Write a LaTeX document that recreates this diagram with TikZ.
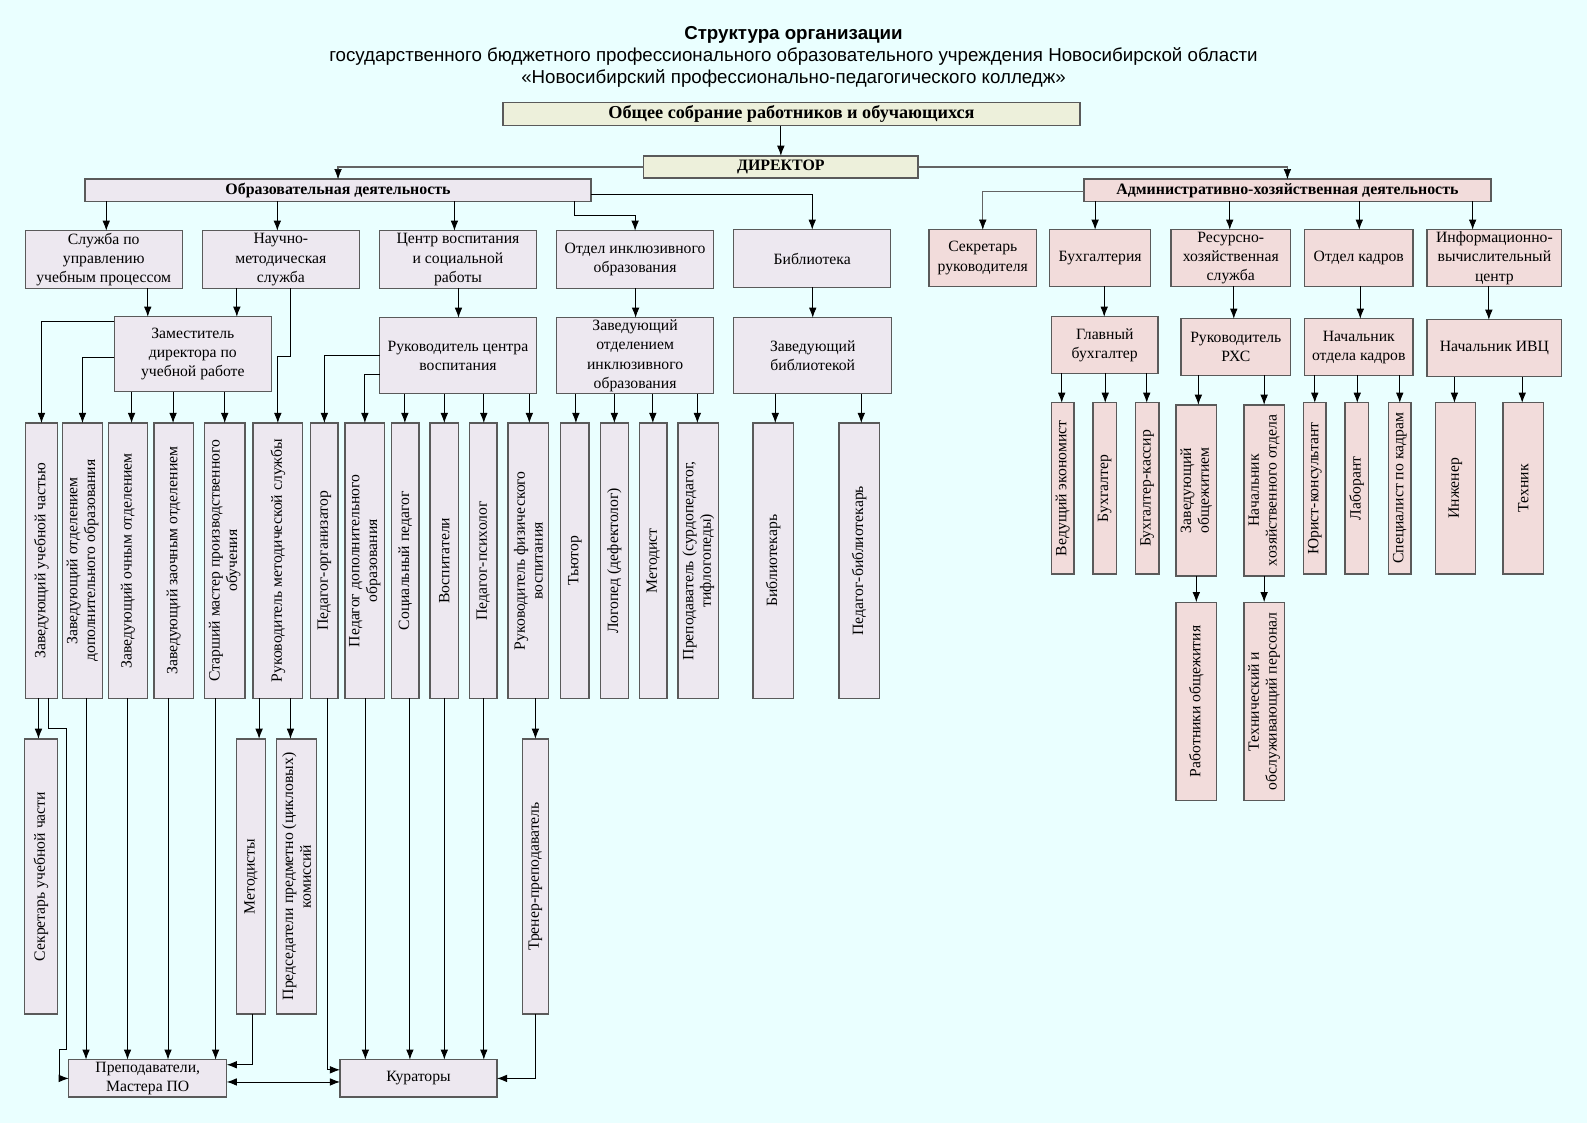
\documentclass[tikz,border=0pt]{standalone}
\usepackage{fontspec}
\setmainfont{Liberation Serif}
\newfontfamily\titlefont{Liberation Sans}
\usetikzlibrary{arrows.meta,calc}
\definecolor{bgc}{RGB}{234,255,255}
\definecolor{topc}{RGB}{237,240,219}
\definecolor{educ}{RGB}{237,232,240}
\definecolor{admc}{RGB}{242,220,219}
\definecolor{bordc}{RGB}{90,90,90}
\definecolor{linec}{RGB}{100,100,100}
\newcommand\bx[7]{\node[#6, minimum width={#4-#2}, minimum height={#5-#3}] (#1) at ({(#2+#4)/2},{(#3+#5)/2}) {#7};}
\newcommand\vbx[7]{\node[#6, minimum width={#4-#2}, minimum height={#5-#3}, label={[vtext]center:{#7}}] (#1) at ({(#2+#4)/2},{(#3+#5)/2}) {};}
\begin{document}
\begin{tikzpicture}[x=1pt,y=-1pt,
  box/.style={draw=bordc, line width=1.3pt, inner sep=1pt, outer sep=0pt, align=center, font=\fontsize{15.5}{19}\selectfont},
  ebox/.style={box, fill=educ},
  abox/.style={box, fill=admc},
  tbox/.style={box, fill=topc, font=\bfseries\fontsize{15.7}{18}\selectfont},
  bbox/.style={box, fill=#1, font=\bfseries\fontsize{15.7}{18}\selectfont},
  vtext/.style={rotate=90, align=center, font=\fontsize{15.5}{17.5}\selectfont},
  arr/.style={-{Latex[length=10pt,width=7.5pt]}, line width=0.9pt, draw=black},
  garr/.style={-{Latex[length=10pt,width=7.5pt,line width=0.5pt,black]}, line width=1.4pt, draw=linec},
  arrb/.style={{Latex[length=10pt,width=7.5pt]}-{Latex[length=10pt,width=7.5pt]}, line width=0.9pt, draw=black},
  ttl/.style={font=\titlefont\fontsize{18.5}{21}\selectfont}]
\useasboundingbox (0,0) rectangle (1568,1110);
\fill[bgc] (0,0) rectangle (1568,1110);
% titles
\node[ttl, font=\titlefont\bfseries\fontsize{18.5}{21}\selectfont] (t1) at (784,34) {Структура организации};
\node[ttl] (t2) at (784,56) {государственного бюджетного профессионального образовательного учреждения Новосибирской области};
\node[ttl] (t3) at (784,78) {«Новосибирский профессионально-педагогического колледж»};
% top
\bx{obsh}{497}{101}{1067}{124}{tbox, font=\bfseries\fontsize{18}{20}\selectfont}{Общее собрание работников и обучающихся}
\bx{dir}{636}{154}{907}{176}{tbox}{ДИРЕКТОР}
\bx{edu}{84}{177}{584}{199}{bbox=educ}{Образовательная деятельность}
\bx{adm}{1071}{177}{1473}{199}{bbox=admc}{Административно-хозяйственная деятельность}
% edu row 2
\bx{s1}{25}{228}{180}{285}{ebox}{Служба по\\управлению\\учебным процессом}
\bx{s2}{200}{228}{355}{285}{ebox}{Научно-\\методическая\\служба}
\bx{s3}{375}{228}{530}{285}{ebox}{Центр воспитания\\и социальной\\работы}
\bx{s4}{550}{228}{705}{285}{ebox}{Отдел инклюзивного\\образования}
\bx{s5}{725}{227}{880}{284}{ebox}{Библиотека}
% edu row 3
\bx{zam}{113}{313}{268}{387}{ebox}{Заместитель\\директора по\\учебной работе}
\bx{rcv}{375}{314}{530}{389}{ebox}{Руководитель центра\\воспитания}
\bx{zio}{550}{314}{705}{389}{ebox}{Заведующий\\отделением\\инклюзивного\\образования}
\bx{zbib}{725}{314}{881}{389}{ebox}{Заведующий\\библиотекой}
% tall row
\vbx{a1}{25}{418}{57}{690}{ebox}{Заведующий учебной частью}
\vbx{a2}{62}{418}{101}{690}{ebox}{Заведующий отделением\\дополнительного образования}
\vbx{a3}{107}{418}{146}{690}{ebox}{Заведующий очным отделением}
\vbx{a4}{152}{418}{191}{690}{ebox}{Заведующий заочным отделением}
\vbx{a5}{202}{418}{242}{690}{ebox}{Старший мастер производственного\\обучения}
\vbx{a6}{250}{418}{299}{690}{ebox}{Руководитель методической службы}
\vbx{a7}{307}{418}{334}{690}{ebox}{Педагог-организатор}
\vbx{a8}{341}{418}{380}{690}{ebox}{Педагог дополнительного\\образования}
\vbx{a9}{387}{418}{414}{690}{ebox}{Социальный педагог}
\vbx{a10}{425}{418}{453}{690}{ebox}{Воспитатели}
\vbx{a11}{464}{418}{491}{690}{ebox}{Педагог-психолог}
\vbx{a12}{502}{418}{542}{690}{ebox}{Руководитель физического\\воспитания}
\vbx{a13}{554}{418}{582}{690}{ebox}{Тьютор}
\vbx{a14}{593}{418}{621}{690}{ebox}{Логопед (дефектолог)}
\vbx{a15}{632}{418}{659}{690}{ebox}{Методист}
\vbx{a16}{670}{418}{710}{690}{ebox}{Преподаватель (сурдопедагог,\\тифлогопеды)}
\vbx{a17}{744}{418}{784}{690}{ebox}{Библиотекарь}
\vbx{a18}{829}{418}{869}{690}{ebox}{Педагог-библиотекарь}
% lower row
\vbx{b1}{24}{730}{57}{1002}{ebox}{Секретарь учебной части}
\vbx{b2}{234}{730}{262}{1002}{ebox}{Методисты}
\vbx{b3}{273}{730}{313}{1002}{ebox}{Председатели предметно (цикловых)\\комиссий}
\vbx{b4}{516}{730}{542}{1002}{ebox}{Тренер-преподаватель}
\bx{prep}{68}{1047}{224}{1084}{ebox}{Преподаватели,\\Мастера ПО}
\bx{kur}{336}{1047}{491}{1084}{ebox}{Кураторы}
% admin
\bx{r1}{918}{227}{1024}{283}{abox}{Секретарь\\руководителя}
\bx{r2}{1037}{227}{1137}{283}{abox}{Бухгалтерия}
\bx{r3}{1157}{227}{1275}{283}{abox}{Ресурсно-\\хозяйственная\\служба}
\bx{r4}{1289}{227}{1396}{283}{abox}{Отдел кадров}
\bx{r5}{1410}{227}{1543}{283}{abox}{Информационно-\\вычислительный\\центр}
\bx{q1}{1039}{313}{1144}{369}{abox}{Главный\\бухгалтер}
\bx{q2}{1167}{315}{1275}{371}{abox}{Руководитель\\РХС}
\bx{q3}{1289}{315}{1396}{371}{abox}{Начальник\\отдела кадров}
\bx{q4}{1410}{316}{1543}{372}{abox}{Начальник ИВЦ}
\vbx{c1}{1039}{398}{1061}{567}{abox}{Ведущий экономист}
\vbx{c2}{1080}{398}{1103}{567}{abox}{Бухгалтер}
\vbx{c3}{1122}{398}{1145}{567}{abox}{Бухгалтер-кассир}
\vbx{c4}{1162}{400}{1202}{569}{abox}{Заведующий\\общежитием}
\vbx{c5}{1229}{400}{1269}{569}{abox}{Начальник\\хозяйственного отдела}
\vbx{c6}{1288}{398}{1310}{567}{abox}{Юрист-консультант}
\vbx{c7}{1329}{398}{1352}{567}{abox}{Лаборант}
\vbx{c8}{1372}{398}{1394}{567}{abox}{Специалист по кадрам}
\vbx{c9}{1418}{398}{1458}{567}{abox}{Инженер}
\vbx{c10}{1485}{398}{1525}{567}{abox}{Техник}
\vbx{d1}{1162}{595}{1202}{791}{abox}{Работники общежития}
\vbx{d2}{1229}{595}{1269}{791}{abox}{Технический и\\обслуживающий персонал}
% connectors top
\draw[arr] (771.5,0 |- obsh.south) -- (dir.north);
\draw[garr] (dir.west) -| (edu.north);
\draw[garr] (dir.east) -| (adm.north);
\draw[arr] (105,0 |- edu.south) -- (105,0 |- s1.north);
\draw[arr] (274,0 |- edu.south) -- (274,0 |- s2.north);
\draw[arr] (449,0 |- edu.south) -- (449,0 |- s3.north);
\draw[arr] (568,0 |- edu.south) -- (568,213) -| (s4.north);
\draw[arr] ($(edu.east)+(0,4)$) -| (s5.north);
% edu level 2 -> 3
\draw[arr] (146,0 |- s1.south) -- (146,0 |- zam.north);
\draw[arr] (234,0 |- s2.south) -- (234,0 |- zam.north);
\draw[arr] (287,0 |- s2.south) |- (274.5,352) -- (a6.north);
\draw[arr] (453,0 |- s3.south) -- (453,0 |- rcv.north);
\draw[arr] (628,0 |- s4.south) -- (628,0 |- zio.north);
\draw[arr] (803,0 |- s5.south) -- (803,0 |- zbib.north);
% zam
\draw[arr] ($(zam.north west)+(0,5)$) -| (a1.north);
\draw[arr] ($(zam.west)+(0,3)$) -| (a2.north);
\draw[arr] (130,0 |- zam.south) -- (130,0 |- a3.north);
\draw[arr] (171,0 |- zam.south) -- (171,0 |- a4.north);
\draw[arr] (222,0 |- zam.south) -- (222,0 |- a5.north);
% rcv
\draw[arr] (rcv.west) -| (a7.north);
\draw[arr] ($(rcv.west)+(0,18)$) -| (a8.north);
\draw[arr] (400,0 |- rcv.south) -- (400,0 |- a9.north);
\draw[arr] (439,0 |- rcv.south) -- (439,0 |- a10.north);
\draw[arr] (478,0 |- rcv.south) -- (478,0 |- a11.north);
\draw[arr] (523,0 |- rcv.south) -- (523,0 |- a12.north);
% zio
\draw[arr] (569,0 |- zio.south) -- (569,0 |- a13.north);
\draw[arr] (607,0 |- zio.south) -- (607,0 |- a14.north);
\draw[arr] (645,0 |- zio.south) -- (645,0 |- a15.north);
\draw[arr] (689,0 |- zio.south) -- (689,0 |- a16.north);
% zbib
\draw[arr] (766,0 |- zbib.south) -- (766,0 |- a17.north);
\draw[arr] (851,0 |- zbib.south) -- (851,0 |- a18.north);
% lower
\draw[arr] (38,0 |- a1.south) -- (38,0 |- b1.north);
\draw[arr] (48,0 |- a1.south) -- (48,720) -- (66,720) -- (66,1037) -- (59,1037) -- (59,1065.5) -- (prep.west);
\draw[arr] (85,0 |- a2.south) -- (85,0 |- prep.north);
\draw[arr] (126,0 |- a3.south) -- (126,0 |- prep.north);
\draw[arr] (166,0 |- a4.south) -- (166,0 |- prep.north);
\draw[arr] (213,0 |- a5.south) -- (213,0 |- prep.north);
\draw[arr] (256,0 |- a6.south) -- (256,0 |- b2.north);
\draw[arr] (287,0 |- a6.south) -- (287,0 |- b3.north);
\draw[arr] (249,0 |- b2.south) |- ($(prep.east)+(0,-13.5)$);
\draw[arr] (324,0 |- a7.south) |- ($(kur.west)+(0,-8.5)$);
\draw[arrb] ($(prep.east)+(0,3.5)$) -- ($(kur.west)+(0,3.5)$);
\draw[arr] (361,0 |- a8.south) -- (361,0 |- kur.north);
\draw[arr] (405,0 |- a9.south) -- (405,0 |- kur.north);
\draw[arr] (439,0 |- a10.south) -- (439,0 |- kur.north);
\draw[arr] (478,0 |- a11.south) -- (478,0 |- kur.north);
\draw[arr] (529,0 |- a12.south) -- (529,0 |- b4.north);
\draw[arr] (529,0 |- b4.south) |- (kur.east);
% admin connectors
\draw[garr] ($(adm.west)+(0,1)$) -| (r1.north);
\draw[arr] (1082,0 |- adm.south) -- (1082,0 |- r2.north);
\draw[arr] (1215,0 |- adm.south) -- (1215,0 |- r3.north);
\draw[arr] (1343,0 |- adm.south) -- (1343,0 |- r4.north);
\draw[arr] (1455,0 |- adm.south) -- (1455,0 |- r5.north);
\draw[arr] (1091,0 |- r2.south) -- (1091,0 |- q1.north);
\draw[arr] (1219,0 |- r3.south) -- (1219,0 |- q2.north);
\draw[arr] (1344,0 |- r4.south) -- (1344,0 |- q3.north);
\draw[arr] (1471,0 |- r5.south) -- (1471,0 |- q4.north);
\draw[arr] (1049,0 |- q1.south) -- (1049,0 |- c1.north);
\draw[arr] (1092,0 |- q1.south) -- (1092,0 |- c2.north);
\draw[arr] (1133,0 |- q1.south) -- (1133,0 |- c3.north);
\draw[arr] (1184,0 |- q2.south) -- (1184,0 |- c4.north);
\draw[arr] (1249,0 |- q2.south) -- (1249,0 |- c5.north);
\draw[arr] (1299,0 |- q3.south) -- (1299,0 |- c6.north);
\draw[arr] (1341,0 |- q3.south) -- (1341,0 |- c7.north);
\draw[arr] (1383,0 |- q3.south) -- (1383,0 |- c8.north);
\draw[arr] (1437,0 |- q4.south) -- (1437,0 |- c9.north);
\draw[arr] (1504,0 |- q4.south) -- (1504,0 |- c10.north);
\draw[arr] (1182,0 |- c4.south) -- (1182,0 |- d1.north);
\draw[arr] (1249,0 |- c5.south) -- (1249,0 |- d2.north);
\end{tikzpicture}
\end{document}
